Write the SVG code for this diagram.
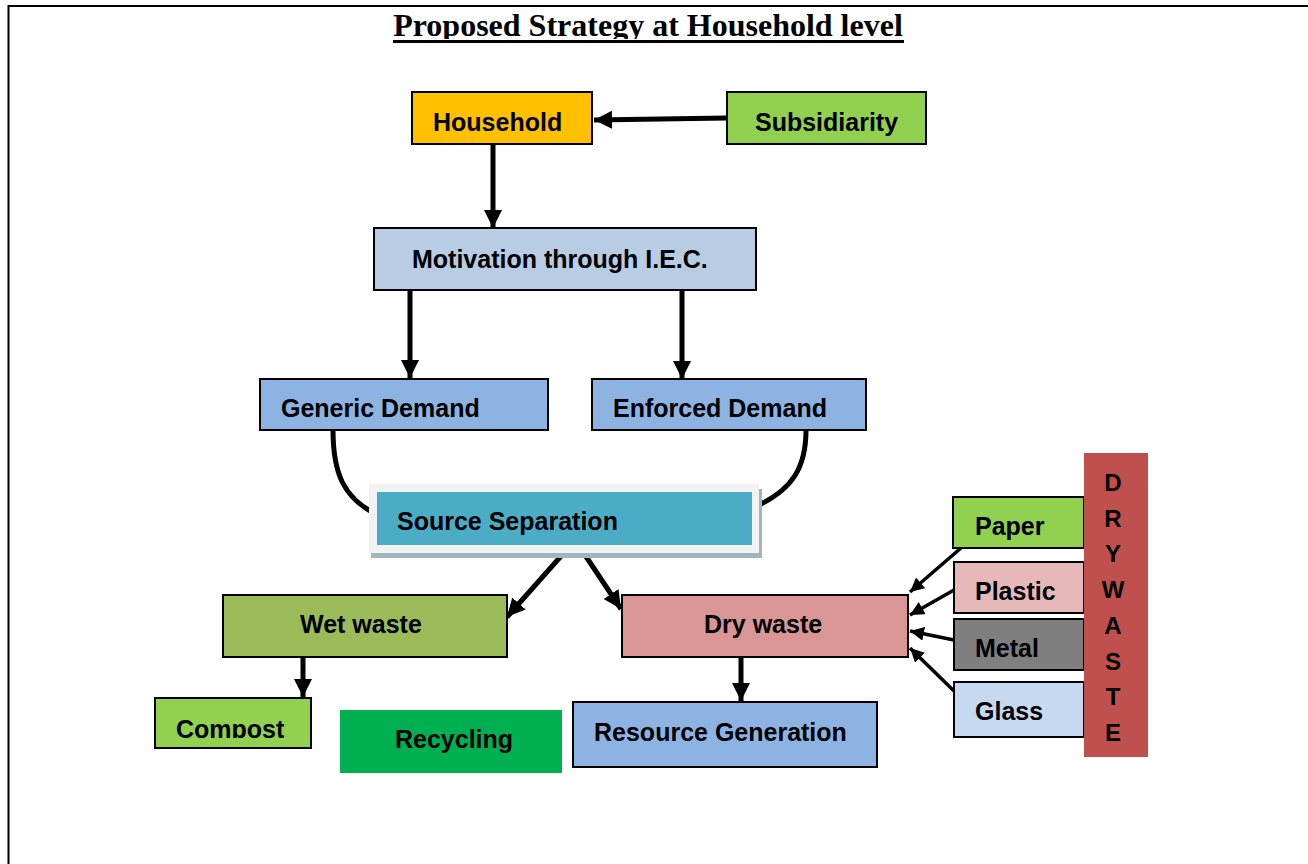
<svg xmlns="http://www.w3.org/2000/svg" width="1308" height="864" viewBox="0 0 1308 864">
  <style>
    .box { stroke: #000; stroke-width: 2; }
    .lbl { font-family: "Liberation Sans", Arial, sans-serif; font-weight: bold; font-size: 25px; fill: #000; }
    .vert { font-family: "Liberation Sans", Arial, sans-serif; font-weight: bold; font-size: 24px; fill: #000; text-anchor: middle; }
    .thick { stroke: #000; stroke-width: 5; fill: none; }
    .thin { stroke: #000; stroke-width: 3.5; fill: none; }
    .title { font-family: "Liberation Serif", "Times New Roman", serif; font-weight: bold; font-size: 32px; fill: #000; }
  </style>
  <defs>
    <marker id="head" markerUnits="userSpaceOnUse" markerWidth="18" markerHeight="18" viewBox="0 0 16 16" refX="16" refY="8" orient="auto">
      <path d="M0,0 L16,8 L0,16 Z" fill="#000"/>
    </marker>
    <marker id="headSmall" markerUnits="userSpaceOnUse" markerWidth="14" markerHeight="14" viewBox="0 0 14 14" refX="14" refY="7" orient="auto">
      <path d="M0,0 L14,7 L0,14 Z" fill="#000"/>
    </marker>
    <clipPath id="titleClip"><rect x="380" y="0" width="540" height="39"/></clipPath>
    <clipPath id="compostClip"><rect x="155" y="698" width="156" height="40"/></clipPath>
  </defs>

  <rect x="0" y="0" width="1308" height="864" fill="#fff"/>

  <!-- page frame -->
  <path d="M8.5,864 L8.5,6 L1308,6" fill="none" stroke="#000" stroke-width="2"/>

  <!-- heading -->
  <g id="title">
    <text class="title" x="648" y="35.5" text-anchor="middle" clip-path="url(#titleClip)">Proposed Strategy at Household level</text>
    <rect x="393" y="40" width="511" height="3" fill="#000"/>
  </g>

  <!-- connectors -->
  <g id="connectors">
    <line class="thick" x1="727" y1="118" x2="594" y2="120" marker-end="url(#head)"/>
    <line class="thick" x1="493" y1="144" x2="493" y2="228" marker-end="url(#head)"/>
    <line class="thick" x1="410" y1="290" x2="410" y2="378" marker-end="url(#head)"/>
    <line class="thick" x1="682" y1="290" x2="682" y2="379" marker-end="url(#head)"/>
    <path class="thick" d="M333,430 C333,475 345,498 374,513"/>
    <path class="thick" d="M806,430 C806,468 792,489 759,505"/>
    <line class="thick" x1="562" y1="555" x2="507" y2="617" marker-end="url(#head)"/>
    <line class="thick" x1="585" y1="555" x2="621" y2="609" marker-end="url(#head)"/>
    <line class="thick" x1="303" y1="657" x2="303" y2="697" marker-end="url(#head)"/>
    <line class="thick" x1="741" y1="657" x2="741" y2="701" marker-end="url(#head)"/>
    <line class="thin" x1="961" y1="548" x2="910" y2="592" marker-end="url(#headSmall)"/>
    <line class="thin" x1="954" y1="590" x2="910" y2="615" marker-end="url(#headSmall)"/>
    <line class="thin" x1="954" y1="640" x2="910" y2="631" marker-end="url(#headSmall)"/>
    <line class="thin" x1="954" y1="691" x2="910" y2="648" marker-end="url(#headSmall)"/>
  </g>

  <g id="household">
    <rect class="box" x="412" y="92" width="180" height="52" fill="#FFC000"/>
    <text class="lbl" x="433" y="131">Household</text>
  </g>
  <g id="subsidiarity">
    <rect class="box" x="727" y="92" width="199" height="52" fill="#92D050"/>
    <text class="lbl" x="755" y="131">Subsidiarity</text>
  </g>
  <g id="motivation">
    <rect class="box" x="374" y="228" width="382" height="62" fill="#B8CCE4"/>
    <text class="lbl" x="412" y="268" font-size="25.8">Motivation through I.E.C.</text>
  </g>
  <g id="generic-demand">
    <rect class="box" x="260" y="379" width="288" height="51" fill="#8DB3E2"/>
    <text class="lbl" x="281" y="417">Generic Demand</text>
  </g>
  <g id="enforced-demand">
    <rect class="box" x="592" y="379" width="274" height="51" fill="#8DB3E2"/>
    <text class="lbl" x="613" y="417">Enforced Demand</text>
  </g>
  <g id="source-separation">
    <rect x="371" y="489" width="391" height="69" fill="#9FB6BF"/>
    <rect x="369" y="484" width="390" height="69" fill="#F2F2F2"/>
    <rect x="377" y="492" width="375" height="53" fill="#4BACC6"/>
    <text class="lbl" x="397" y="530">Source Separation</text>
  </g>
  <g id="wet-waste">
    <rect class="box" x="223" y="595" width="284" height="62" fill="#9BBB59"/>
    <text class="lbl" x="300" y="633">Wet waste</text>
  </g>
  <g id="dry-waste">
    <rect class="box" x="622" y="595" width="286" height="62" fill="#D99694"/>
    <text class="lbl" x="704" y="633">Dry waste</text>
  </g>
  <g id="compost">
    <rect class="box" x="155" y="698" width="156" height="50" fill="#92D050"/>
    <text class="lbl" x="176" y="738" clip-path="url(#compostClip)">Compost</text>
  </g>
  <g id="recycling">
    <rect x="340" y="710" width="222" height="63" fill="#00B050"/>
    <text class="lbl" x="395" y="748">Recycling</text>
  </g>
  <g id="resource-generation">
    <rect class="box" x="573" y="702" width="304" height="65" fill="#8DB3E2"/>
    <text class="lbl" x="594" y="741">Resource Generation</text>
  </g>
  <g id="paper">
    <rect class="box" x="953" y="497" width="131" height="51" fill="#92D050"/>
    <text class="lbl" x="975" y="535">Paper</text>
  </g>
  <g id="plastic">
    <rect class="box" x="954" y="562" width="130" height="51" fill="#E6B9B8"/>
    <text class="lbl" x="975" y="600">Plastic</text>
  </g>
  <g id="metal">
    <rect class="box" x="954" y="619" width="130" height="51" fill="#7F7F7F"/>
    <text class="lbl" x="975" y="657">Metal</text>
  </g>
  <g id="glass">
    <rect class="box" x="954" y="682" width="130" height="55" fill="#C6D9F1"/>
    <text class="lbl" x="975" y="720">Glass</text>
  </g>
  <g id="dry-waste-bar">
    <rect x="1084" y="453" width="64" height="304" fill="#C0504D"/>
    <text class="vert" x="1113" y="491">D</text>
    <text class="vert" x="1113" y="527">R</text>
    <text class="vert" x="1113" y="562">Y</text>
    <text class="vert" x="1113" y="598">W</text>
    <text class="vert" x="1113" y="634">A</text>
    <text class="vert" x="1113" y="670">S</text>
    <text class="vert" x="1113" y="705">T</text>
    <text class="vert" x="1113" y="741">E</text>
  </g>
</svg>
